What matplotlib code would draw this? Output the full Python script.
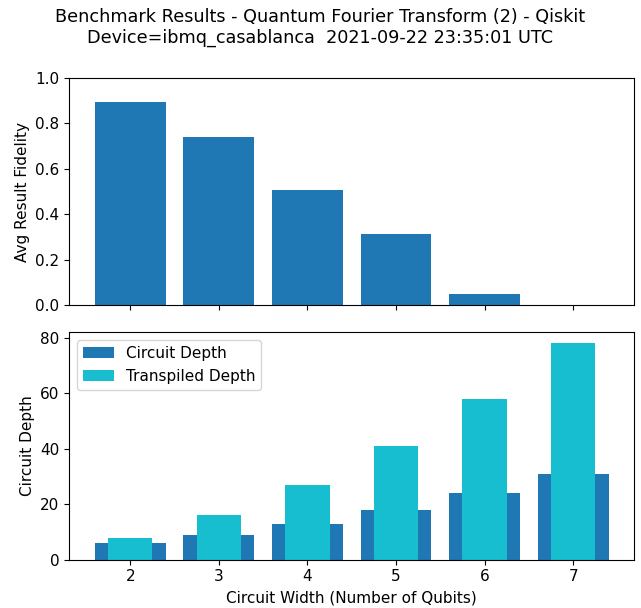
import numpy as np
import matplotlib
matplotlib.use("Agg")
import matplotlib.pyplot as plt

# benchmark data
num_qubits = [2, 3, 4, 5, 6, 7]
avg_fidelity = [0.896, 0.742, 0.506, 0.313, 0.049, 0.002]
circuit_depth = [6, 9, 13, 18, 24, 31]
transpiled_depth = [8, 16, 27, 41, 58, 78]

suptitle = ("Benchmark Results - Quantum Fourier Transform (2) - Qiskit\n"
            "Device=ibmq_casablanca  2021-09-22 23:35:01 UTC")

plt.rcParams["font.size"] = 11

fig, (ax1, ax2) = plt.subplots(2, 1, sharex=True, figsize=(6.41, 6.08), dpi=100)
fig.subplots_adjust(left=0.108, right=0.9895, top=0.8717, bottom=0.0794, hspace=0.119)
fig.suptitle(suptitle, fontsize=12.7, y=0.987)

# fidelity plot
ax1.bar(num_qubits, avg_fidelity, color="tab:blue")
ax1.set_ylim(0, 1.0)
ax1.set_ylabel("Avg Result Fidelity")

# depth plot
ax2.bar(num_qubits, circuit_depth, 0.8, color="tab:blue", label="Circuit Depth")
ax2.bar(num_qubits, transpiled_depth, 0.5, color="tab:cyan", label="Transpiled Depth")
ax2.set_ylabel("Circuit Depth")
ax2.set_xlabel("Circuit Width (Number of Qubits)")
ax2.legend(loc="upper left")

fig.savefig("out.png")
